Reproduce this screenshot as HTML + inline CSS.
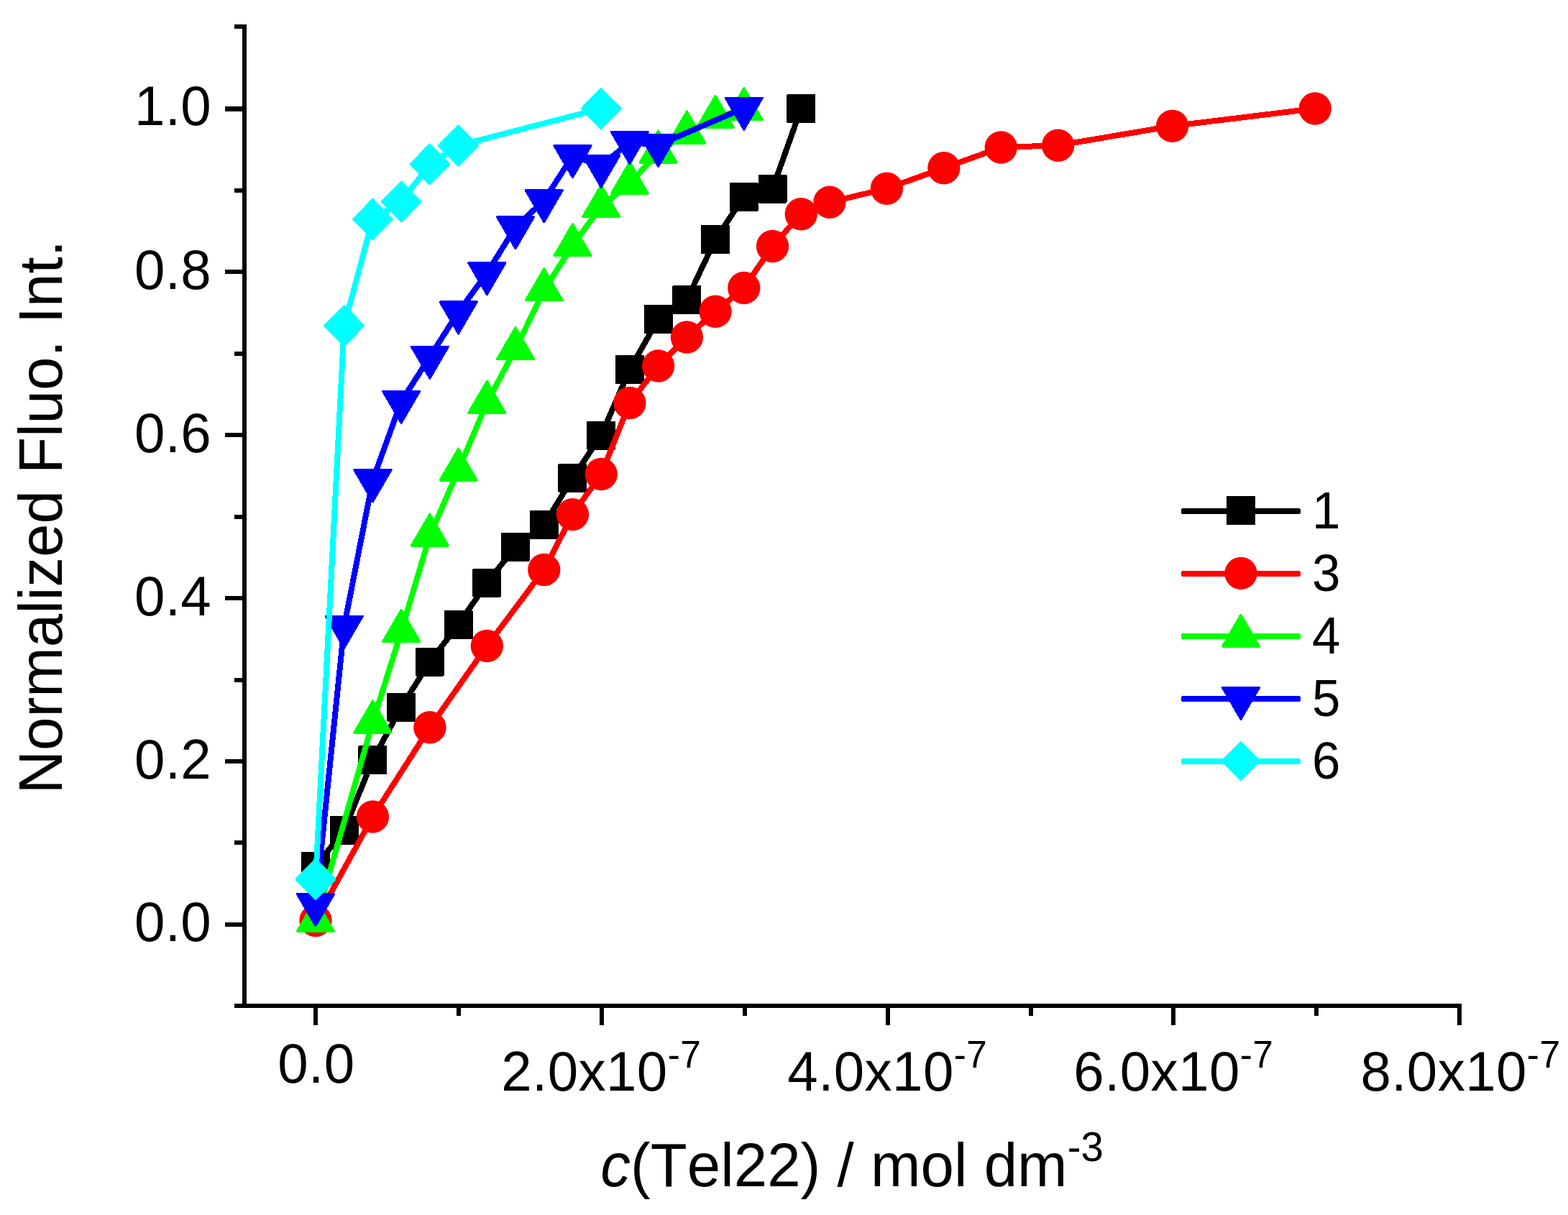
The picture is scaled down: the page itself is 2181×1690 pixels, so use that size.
<!DOCTYPE html>
<html lang="en"><head><meta charset="utf-8"><title>Normalized Fluo. Int. vs c(Tel22)</title>
<style>html,body{margin:0;padding:0;background:#fff}body{width:2181px;height:1690px;overflow:hidden}svg{display:block}text{font-family:"Liberation Sans",sans-serif;fill:#000;font-kerning:none}</style>
</head><body>
<svg width="2181" height="1690" viewBox="0 0 2181 1690">
<rect width="2181" height="1690" fill="#fff"/>
<g fill="#000" shape-rendering="crispEdges">
<rect x="337" y="34" width="6" height="1368"/>
<rect x="326" y="1396" width="1707" height="6"/>
<rect x="326" y="34" width="12" height="6"/>
<rect x="313" y="148" width="25" height="7"/>
<rect x="326" y="262" width="12" height="6"/>
<rect x="313" y="375" width="25" height="6"/>
<rect x="326" y="489" width="12" height="6"/>
<rect x="313" y="602" width="25" height="6"/>
<rect x="326" y="716" width="12" height="6"/>
<rect x="313" y="829" width="25" height="6"/>
<rect x="326" y="943" width="12" height="6"/>
<rect x="313" y="1056" width="25" height="6"/>
<rect x="326" y="1169" width="12" height="6"/>
<rect x="313" y="1283" width="25" height="6"/>
<rect x="436" y="1401" width="6" height="25"/>
<rect x="635" y="1401" width="6" height="11.5"/>
<rect x="834" y="1401" width="6" height="25"/>
<rect x="1033" y="1401" width="6" height="11.5"/>
<rect x="1232" y="1401" width="6" height="25"/>
<rect x="1431" y="1401" width="6" height="11.5"/>
<rect x="1629" y="1401" width="6" height="25"/>
<rect x="1828" y="1401" width="6" height="11.5"/>
<rect x="2027" y="1401" width="6" height="25"/>
</g>
<text transform="translate(294.2,1309) scale(1,1.025)" font-size="76.3" text-anchor="end" letter-spacing="0.4">0.0</text>
<text transform="translate(294.2,1082.5) scale(1,1.025)" font-size="76.3" text-anchor="end" letter-spacing="0.4">0.2</text>
<text transform="translate(294.2,855.6) scale(1,1.025)" font-size="76.3" text-anchor="end" letter-spacing="0.4">0.4</text>
<text transform="translate(294.2,628.5) scale(1,1.025)" font-size="76.3" text-anchor="end" letter-spacing="0.4">0.6</text>
<text transform="translate(294.2,401.9) scale(1,1.025)" font-size="76.3" text-anchor="end" letter-spacing="0.4">0.8</text>
<text transform="translate(294.2,173.6) scale(1,1.025)" font-size="76.3" text-anchor="end" letter-spacing="0.4">1.0</text>
<text transform="translate(439.9,1505.5) scale(1,1.025)" font-size="76.3" text-anchor="middle" letter-spacing="0.4">0.0</text>
<text transform="translate(836.2,1517) scale(1,1.025)" font-size="76.3" text-anchor="middle" letter-spacing="0.4">2.0x10<tspan font-size="51.43" dy="-30.9">-7</tspan></text>
<text transform="translate(1234.3,1517) scale(1,1.025)" font-size="76.3" text-anchor="middle" letter-spacing="0.4">4.0x10<tspan font-size="51.43" dy="-30.9">-7</tspan></text>
<text transform="translate(1632.3,1517) scale(1,1.025)" font-size="76.3" text-anchor="middle" letter-spacing="0.4">6.0x10<tspan font-size="51.43" dy="-30.9">-7</tspan></text>
<text transform="translate(2031.4,1517) scale(1,1.025)" font-size="76.3" text-anchor="middle" letter-spacing="0.4">8.0x10<tspan font-size="51.43" dy="-30.9">-7</tspan></text>
<text transform="translate(1185,1650) scale(1,1.015)" font-size="83.5" text-anchor="middle"><tspan font-style="italic">c</tspan>(Tel22) / mol dm<tspan font-size="56.36" dy="-34.5">-3</tspan></text>
<text transform="translate(86,719.2) rotate(-90) scale(1,1.015)" font-size="83.5" text-anchor="middle">Normalized Fluo. Int.</text>
<g shape-rendering="crispEdges">
<polyline points="439,1205 478.72,1155 518.44,1057 558.16,983.5 597.88,920.5 637.6,869 677.32,810.6 717.04,760.6 756.76,730 796.48,665 836.2,605.6 875.92,514 915.64,443.75 955.36,417 995.08,333 1034.8,274 1074.52,262.5 1114.24,151" fill="none" stroke="#000000" stroke-width="8" stroke-linejoin="round" stroke-linecap="round"/>
<polygon points="420.5,1186.5 457.5,1186.5 457.5,1223.5 420.5,1223.5" fill="#000000" stroke="#000000" stroke-width="3" stroke-linejoin="round"/>
<polygon points="460.22,1136.5 497.22,1136.5 497.22,1173.5 460.22,1173.5" fill="#000000" stroke="#000000" stroke-width="3" stroke-linejoin="round"/>
<polygon points="499.94,1038.5 536.94,1038.5 536.94,1075.5 499.94,1075.5" fill="#000000" stroke="#000000" stroke-width="3" stroke-linejoin="round"/>
<polygon points="539.66,965 576.66,965 576.66,1002 539.66,1002" fill="#000000" stroke="#000000" stroke-width="3" stroke-linejoin="round"/>
<polygon points="579.38,902 616.38,902 616.38,939 579.38,939" fill="#000000" stroke="#000000" stroke-width="3" stroke-linejoin="round"/>
<polygon points="619.1,850.5 656.1,850.5 656.1,887.5 619.1,887.5" fill="#000000" stroke="#000000" stroke-width="3" stroke-linejoin="round"/>
<polygon points="658.82,792.1 695.82,792.1 695.82,829.1 658.82,829.1" fill="#000000" stroke="#000000" stroke-width="3" stroke-linejoin="round"/>
<polygon points="698.54,742.1 735.54,742.1 735.54,779.1 698.54,779.1" fill="#000000" stroke="#000000" stroke-width="3" stroke-linejoin="round"/>
<polygon points="738.26,711.5 775.26,711.5 775.26,748.5 738.26,748.5" fill="#000000" stroke="#000000" stroke-width="3" stroke-linejoin="round"/>
<polygon points="777.98,646.5 814.98,646.5 814.98,683.5 777.98,683.5" fill="#000000" stroke="#000000" stroke-width="3" stroke-linejoin="round"/>
<polygon points="817.7,587.1 854.7,587.1 854.7,624.1 817.7,624.1" fill="#000000" stroke="#000000" stroke-width="3" stroke-linejoin="round"/>
<polygon points="857.42,495.5 894.42,495.5 894.42,532.5 857.42,532.5" fill="#000000" stroke="#000000" stroke-width="3" stroke-linejoin="round"/>
<polygon points="897.14,425.25 934.14,425.25 934.14,462.25 897.14,462.25" fill="#000000" stroke="#000000" stroke-width="3" stroke-linejoin="round"/>
<polygon points="936.86,398.5 973.86,398.5 973.86,435.5 936.86,435.5" fill="#000000" stroke="#000000" stroke-width="3" stroke-linejoin="round"/>
<polygon points="976.58,314.5 1013.58,314.5 1013.58,351.5 976.58,351.5" fill="#000000" stroke="#000000" stroke-width="3" stroke-linejoin="round"/>
<polygon points="1016.3,255.5 1053.3,255.5 1053.3,292.5 1016.3,292.5" fill="#000000" stroke="#000000" stroke-width="3" stroke-linejoin="round"/>
<polygon points="1056.02,244 1093.02,244 1093.02,281 1056.02,281" fill="#000000" stroke="#000000" stroke-width="3" stroke-linejoin="round"/>
<polygon points="1095.74,132.5 1132.74,132.5 1132.74,169.5 1095.74,169.5" fill="#000000" stroke="#000000" stroke-width="3" stroke-linejoin="round"/>
</g>
<g shape-rendering="crispEdges">
<polyline points="439,1280.5 518.44,1136 597.88,1011.75 677.32,898.5 756.76,792.5 796.48,715.6 836.2,659.5 875.92,560.5 915.64,509 955.36,469 995.08,433.25 1034.8,400.5 1074.52,342.5 1114.24,297.75 1153.96,281.25 1233.4,262.25 1312.84,233.75 1392.28,205 1471.72,202.25 1630.6,175.3 1829.2,151" fill="none" stroke="#ff0000" stroke-width="8" stroke-linejoin="round" stroke-linecap="round"/>
<circle cx="439" cy="1280.5" r="22.65" fill="#ff0000" shape-rendering="geometricPrecision"/>
<circle cx="518.44" cy="1136" r="22.65" fill="#ff0000" shape-rendering="geometricPrecision"/>
<circle cx="597.88" cy="1011.75" r="22.65" fill="#ff0000" shape-rendering="geometricPrecision"/>
<circle cx="677.32" cy="898.5" r="22.65" fill="#ff0000" shape-rendering="geometricPrecision"/>
<circle cx="756.76" cy="792.5" r="22.65" fill="#ff0000" shape-rendering="geometricPrecision"/>
<circle cx="796.48" cy="715.6" r="22.65" fill="#ff0000" shape-rendering="geometricPrecision"/>
<circle cx="836.2" cy="659.5" r="22.65" fill="#ff0000" shape-rendering="geometricPrecision"/>
<circle cx="875.92" cy="560.5" r="22.65" fill="#ff0000" shape-rendering="geometricPrecision"/>
<circle cx="915.64" cy="509" r="22.65" fill="#ff0000" shape-rendering="geometricPrecision"/>
<circle cx="955.36" cy="469" r="22.65" fill="#ff0000" shape-rendering="geometricPrecision"/>
<circle cx="995.08" cy="433.25" r="22.65" fill="#ff0000" shape-rendering="geometricPrecision"/>
<circle cx="1034.8" cy="400.5" r="22.65" fill="#ff0000" shape-rendering="geometricPrecision"/>
<circle cx="1074.52" cy="342.5" r="22.65" fill="#ff0000" shape-rendering="geometricPrecision"/>
<circle cx="1114.24" cy="297.75" r="22.65" fill="#ff0000" shape-rendering="geometricPrecision"/>
<circle cx="1153.96" cy="281.25" r="22.65" fill="#ff0000" shape-rendering="geometricPrecision"/>
<circle cx="1233.4" cy="262.25" r="22.65" fill="#ff0000" shape-rendering="geometricPrecision"/>
<circle cx="1312.84" cy="233.75" r="22.65" fill="#ff0000" shape-rendering="geometricPrecision"/>
<circle cx="1392.28" cy="205" r="22.65" fill="#ff0000" shape-rendering="geometricPrecision"/>
<circle cx="1471.72" cy="202.25" r="22.65" fill="#ff0000" shape-rendering="geometricPrecision"/>
<circle cx="1630.6" cy="175.3" r="22.65" fill="#ff0000" shape-rendering="geometricPrecision"/>
<circle cx="1829.2" cy="151" r="22.65" fill="#ff0000" shape-rendering="geometricPrecision"/>
</g>
<g shape-rendering="crispEdges">
<polyline points="439,1281.13 518.44,1004.83 558.16,878.08 597.88,744.83 637.6,653.83 677.32,560.08 717.04,485.33 756.76,403.58 796.48,341.33 836.2,287.33 875.92,255.08 915.64,211.83 955.36,184.83 995.08,163.08 1034.8,152.33" fill="none" stroke="#00ff00" stroke-width="8" stroke-linejoin="round" stroke-linecap="round"/>
<polygon points="439,1251.3 464.6,1295.3 413.4,1295.3" fill="#00ff00" stroke="#00ff00" stroke-width="3" stroke-linejoin="round"/>
<polygon points="518.44,975 544.04,1019 492.84,1019" fill="#00ff00" stroke="#00ff00" stroke-width="3" stroke-linejoin="round"/>
<polygon points="558.16,848.25 583.76,892.25 532.56,892.25" fill="#00ff00" stroke="#00ff00" stroke-width="3" stroke-linejoin="round"/>
<polygon points="597.88,715 623.48,759 572.28,759" fill="#00ff00" stroke="#00ff00" stroke-width="3" stroke-linejoin="round"/>
<polygon points="637.6,624 663.2,668 612,668" fill="#00ff00" stroke="#00ff00" stroke-width="3" stroke-linejoin="round"/>
<polygon points="677.32,530.25 702.92,574.25 651.72,574.25" fill="#00ff00" stroke="#00ff00" stroke-width="3" stroke-linejoin="round"/>
<polygon points="717.04,455.5 742.64,499.5 691.44,499.5" fill="#00ff00" stroke="#00ff00" stroke-width="3" stroke-linejoin="round"/>
<polygon points="756.76,373.75 782.36,417.75 731.16,417.75" fill="#00ff00" stroke="#00ff00" stroke-width="3" stroke-linejoin="round"/>
<polygon points="796.48,311.5 822.08,355.5 770.88,355.5" fill="#00ff00" stroke="#00ff00" stroke-width="3" stroke-linejoin="round"/>
<polygon points="836.2,257.5 861.8,301.5 810.6,301.5" fill="#00ff00" stroke="#00ff00" stroke-width="3" stroke-linejoin="round"/>
<polygon points="875.92,225.25 901.52,269.25 850.32,269.25" fill="#00ff00" stroke="#00ff00" stroke-width="3" stroke-linejoin="round"/>
<polygon points="915.64,182 941.24,226 890.04,226" fill="#00ff00" stroke="#00ff00" stroke-width="3" stroke-linejoin="round"/>
<polygon points="955.36,155 980.96,199 929.76,199" fill="#00ff00" stroke="#00ff00" stroke-width="3" stroke-linejoin="round"/>
<polygon points="995.08,133.25 1020.68,177.25 969.48,177.25" fill="#00ff00" stroke="#00ff00" stroke-width="3" stroke-linejoin="round"/>
<polygon points="1034.8,122.5 1060.4,166.5 1009.2,166.5" fill="#00ff00" stroke="#00ff00" stroke-width="3" stroke-linejoin="round"/>
</g>
<g shape-rendering="crispEdges">
<polyline points="439,1257.87 478.72,871.37 518.44,667.87 558.16,558.37 597.88,496.37 637.6,434.12 677.32,379.87 717.04,315.87 756.76,278.87 796.48,216.87 836.2,230.37 875.92,197.87 915.64,201.62 1034.8,150.37" fill="none" stroke="#0000ff" stroke-width="8" stroke-linejoin="round" stroke-linecap="round"/>
<polygon points="439,1287.7 464.6,1243.7 413.4,1243.7" fill="#0000ff" stroke="#0000ff" stroke-width="3" stroke-linejoin="round"/>
<polygon points="478.72,901.2 504.32,857.2 453.12,857.2" fill="#0000ff" stroke="#0000ff" stroke-width="3" stroke-linejoin="round"/>
<polygon points="518.44,697.7 544.04,653.7 492.84,653.7" fill="#0000ff" stroke="#0000ff" stroke-width="3" stroke-linejoin="round"/>
<polygon points="558.16,588.2 583.76,544.2 532.56,544.2" fill="#0000ff" stroke="#0000ff" stroke-width="3" stroke-linejoin="round"/>
<polygon points="597.88,526.2 623.48,482.2 572.28,482.2" fill="#0000ff" stroke="#0000ff" stroke-width="3" stroke-linejoin="round"/>
<polygon points="637.6,463.95 663.2,419.95 612,419.95" fill="#0000ff" stroke="#0000ff" stroke-width="3" stroke-linejoin="round"/>
<polygon points="677.32,409.7 702.92,365.7 651.72,365.7" fill="#0000ff" stroke="#0000ff" stroke-width="3" stroke-linejoin="round"/>
<polygon points="717.04,345.7 742.64,301.7 691.44,301.7" fill="#0000ff" stroke="#0000ff" stroke-width="3" stroke-linejoin="round"/>
<polygon points="756.76,308.7 782.36,264.7 731.16,264.7" fill="#0000ff" stroke="#0000ff" stroke-width="3" stroke-linejoin="round"/>
<polygon points="796.48,246.7 822.08,202.7 770.88,202.7" fill="#0000ff" stroke="#0000ff" stroke-width="3" stroke-linejoin="round"/>
<polygon points="836.2,260.2 861.8,216.2 810.6,216.2" fill="#0000ff" stroke="#0000ff" stroke-width="3" stroke-linejoin="round"/>
<polygon points="875.92,227.7 901.52,183.7 850.32,183.7" fill="#0000ff" stroke="#0000ff" stroke-width="3" stroke-linejoin="round"/>
<polygon points="915.64,231.45 941.24,187.45 890.04,187.45" fill="#0000ff" stroke="#0000ff" stroke-width="3" stroke-linejoin="round"/>
<polygon points="1034.8,180.2 1060.4,136.2 1009.2,136.2" fill="#0000ff" stroke="#0000ff" stroke-width="3" stroke-linejoin="round"/>
</g>
<g shape-rendering="crispEdges">
<polyline points="439,1223 478.72,453 518.44,305 558.16,280.5 597.88,228.5 637.6,202.5 836.2,151" fill="none" stroke="#00ffff" stroke-width="8" stroke-linejoin="round" stroke-linecap="round"/>
<polygon points="439,1195.5 466,1223 439,1250.5 412,1223" fill="#00ffff" stroke="#00ffff" stroke-width="3" stroke-linejoin="round"/>
<polygon points="478.72,425.5 505.72,453 478.72,480.5 451.72,453" fill="#00ffff" stroke="#00ffff" stroke-width="3" stroke-linejoin="round"/>
<polygon points="518.44,277.5 545.44,305 518.44,332.5 491.44,305" fill="#00ffff" stroke="#00ffff" stroke-width="3" stroke-linejoin="round"/>
<polygon points="558.16,253 585.16,280.5 558.16,308 531.16,280.5" fill="#00ffff" stroke="#00ffff" stroke-width="3" stroke-linejoin="round"/>
<polygon points="597.88,201 624.88,228.5 597.88,256 570.88,228.5" fill="#00ffff" stroke="#00ffff" stroke-width="3" stroke-linejoin="round"/>
<polygon points="637.6,175 664.6,202.5 637.6,230 610.6,202.5" fill="#00ffff" stroke="#00ffff" stroke-width="3" stroke-linejoin="round"/>
<polygon points="836.2,123.5 863.2,151 836.2,178.5 809.2,151" fill="#00ffff" stroke="#00ffff" stroke-width="3" stroke-linejoin="round"/>
</g>
<g shape-rendering="crispEdges">
<line x1="1646.5" y1="711" x2="1805.5" y2="711" stroke="#000000" stroke-width="8" stroke-linecap="round"/>
<polygon points="1707.5,691.5 1744.5,691.5 1744.5,728.5 1707.5,728.5" fill="#000000" stroke="#000000" stroke-width="3" stroke-linejoin="round"/>
</g>
<text transform="translate(1825,735) scale(1,1.025)" font-size="70.8" text-anchor="start">1</text>
<g shape-rendering="crispEdges">
<line x1="1646.5" y1="798" x2="1805.5" y2="798" stroke="#ff0000" stroke-width="8" stroke-linecap="round"/>
<circle cx="1726" cy="797.4" r="22.65" fill="#ff0000" shape-rendering="geometricPrecision"/>
</g>
<text transform="translate(1825,822) scale(1,1.025)" font-size="70.8" text-anchor="start">3</text>
<g shape-rendering="crispEdges">
<line x1="1646.5" y1="885" x2="1805.5" y2="885" stroke="#00ff00" stroke-width="8" stroke-linecap="round"/>
<polygon points="1726,855.17 1751.6,899.17 1700.4,899.17" fill="#00ff00" stroke="#00ff00" stroke-width="3" stroke-linejoin="round"/>
</g>
<text transform="translate(1825,909) scale(1,1.025)" font-size="70.8" text-anchor="start">4</text>
<g shape-rendering="crispEdges">
<line x1="1646.5" y1="972" x2="1805.5" y2="972" stroke="#0000ff" stroke-width="8" stroke-linecap="round"/>
<polygon points="1726,1000.43 1751.6,956.43 1700.4,956.43" fill="#0000ff" stroke="#0000ff" stroke-width="3" stroke-linejoin="round"/>
</g>
<text transform="translate(1825,996) scale(1,1.025)" font-size="70.8" text-anchor="start">5</text>
<g shape-rendering="crispEdges">
<line x1="1646.5" y1="1059" x2="1805.5" y2="1059" stroke="#00ffff" stroke-width="8" stroke-linecap="round"/>
<polygon points="1726,1032.4 1751.6,1058.5 1726,1084.6 1700.4,1058.5" fill="#00ffff" stroke="#00ffff" stroke-width="3" stroke-linejoin="round"/>
</g>
<text transform="translate(1825,1083) scale(1,1.025)" font-size="70.8" text-anchor="start">6</text>
</svg>
</body></html>
